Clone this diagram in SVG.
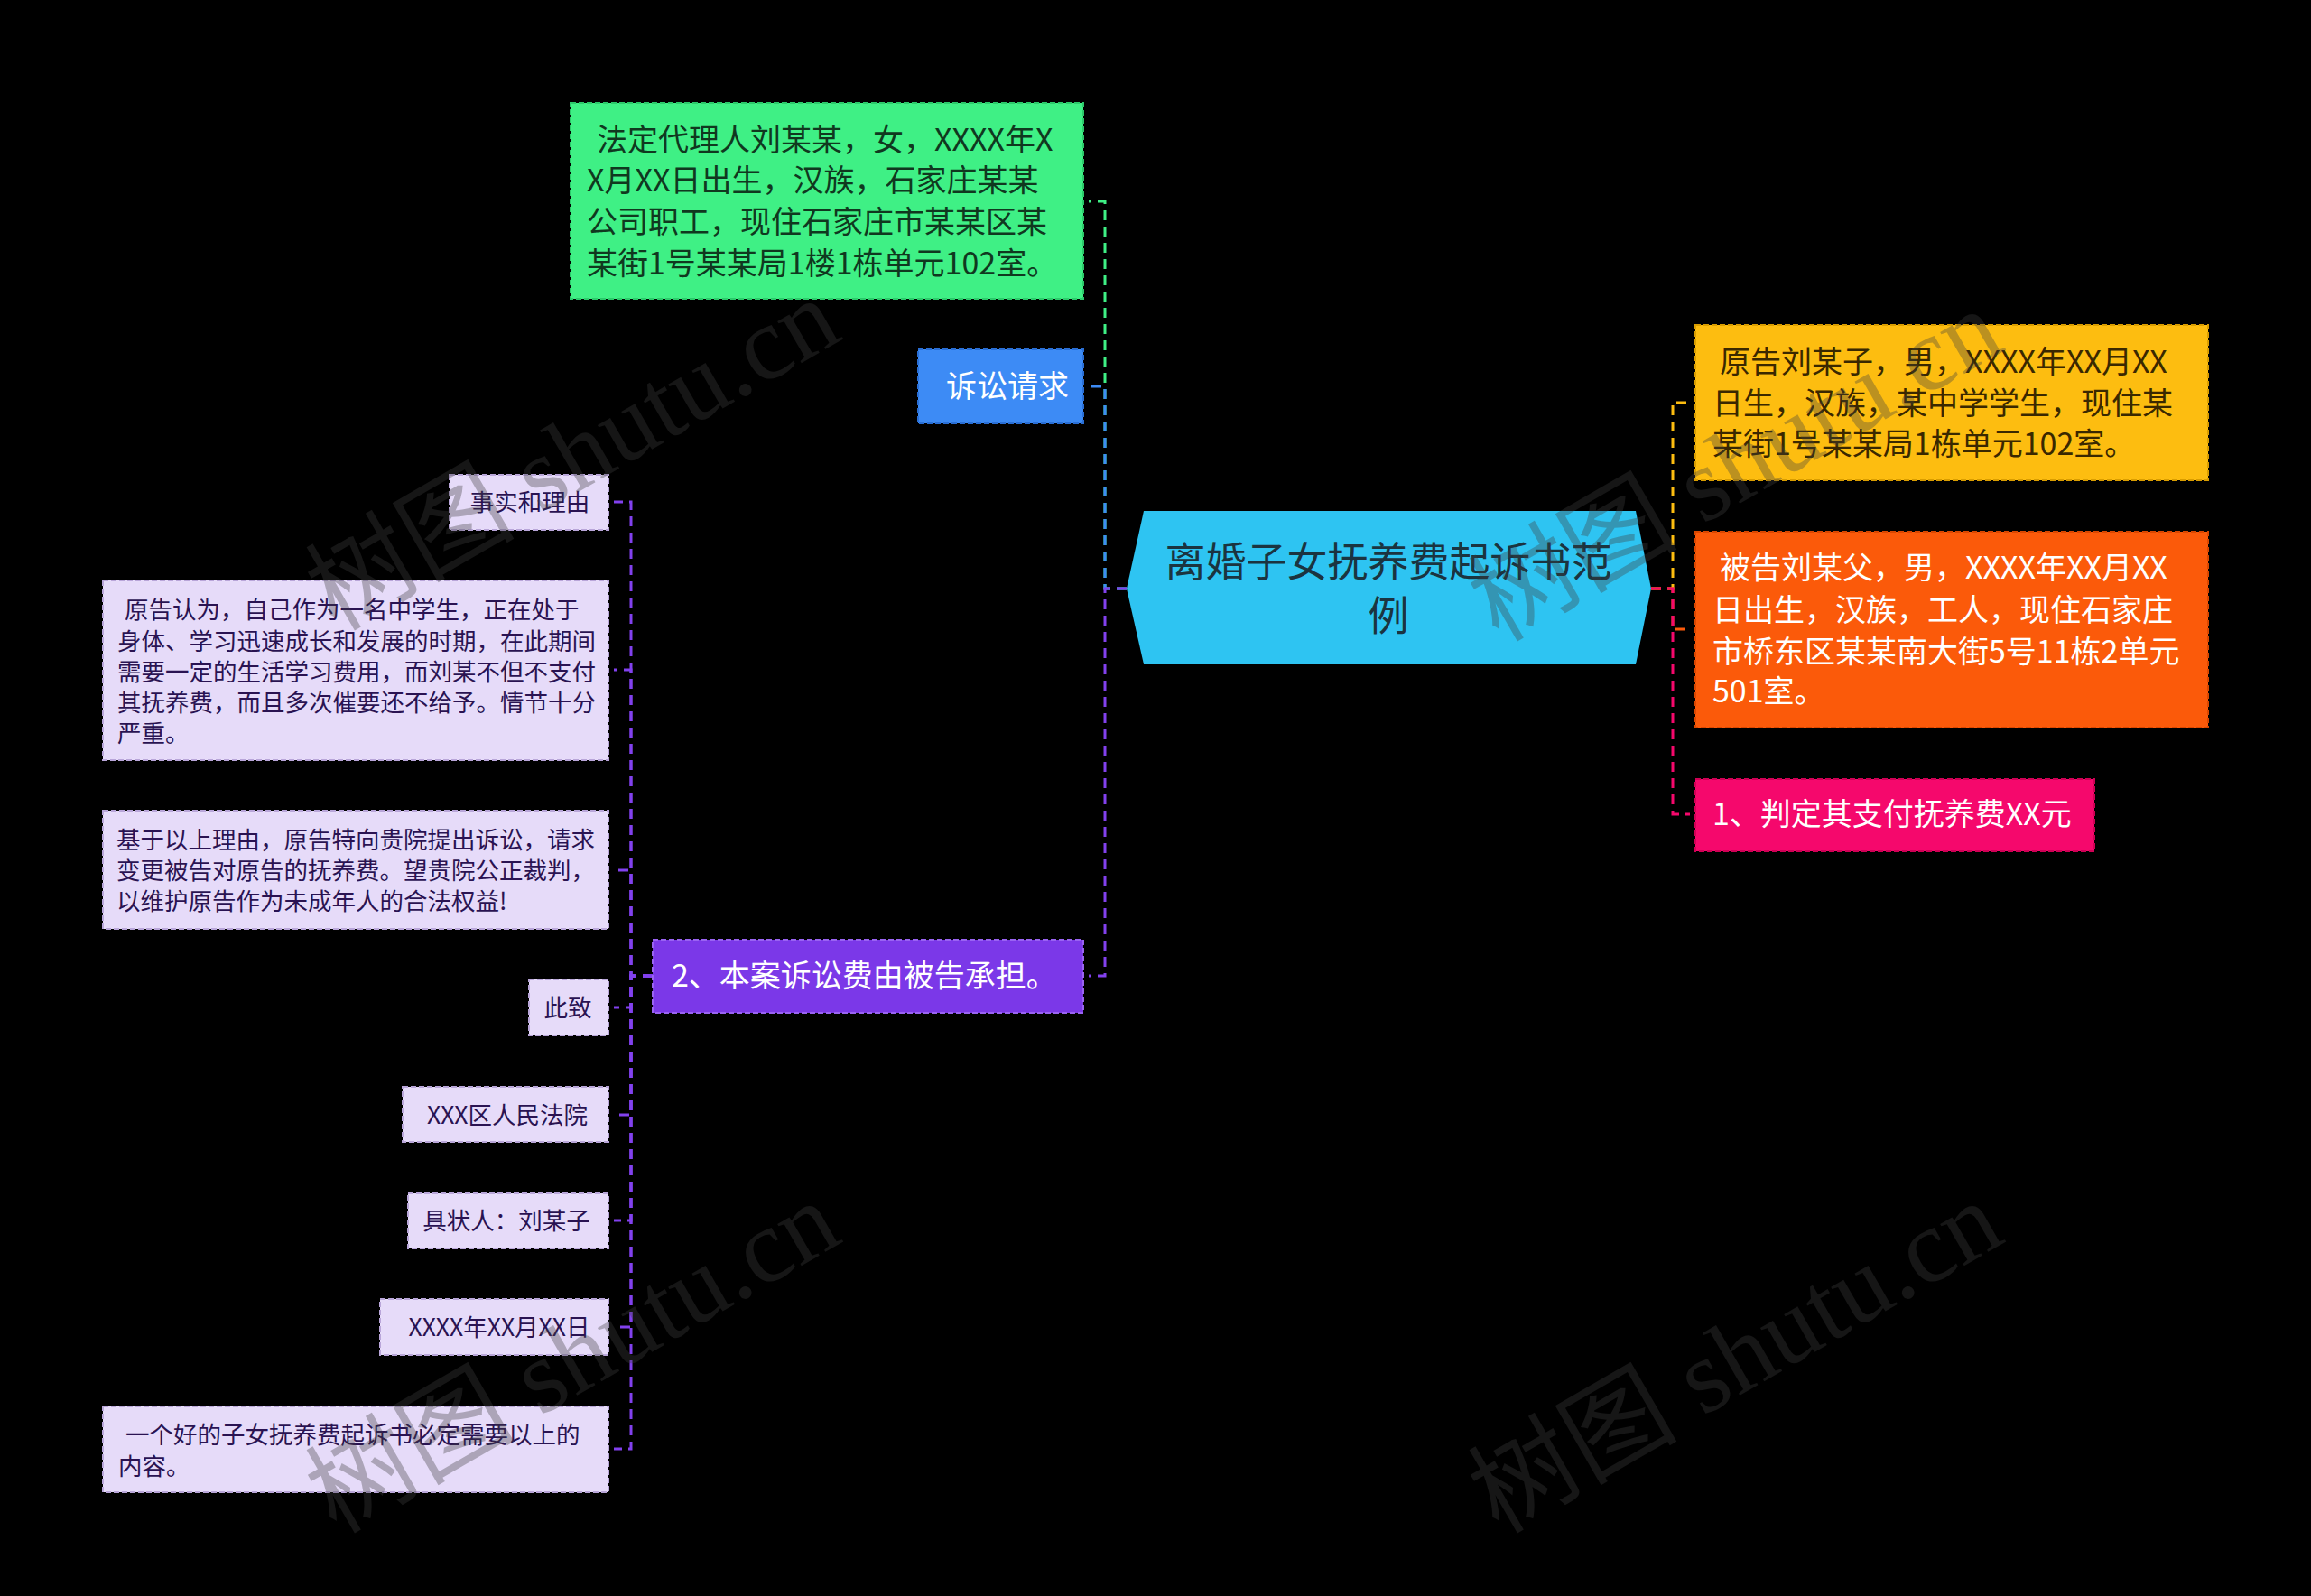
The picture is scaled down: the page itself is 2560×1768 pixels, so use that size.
<svg xmlns="http://www.w3.org/2000/svg" width="2560" height="1768" viewBox="0 0 2560 1768">
<style>
  .t { font-family: "Noto Sans CJK SC", "Noto Sans", sans-serif; dominant-baseline: central; }
  .big { font-size: 34px; }
  .sm { font-size: 26.5px; fill: #2a1352; }
  .box { stroke-width: 2; stroke-dasharray: 6 3; }
  .lav { fill: #e6dbf9; stroke: #b9a6d9; }
  .c { fill: none; stroke-width: 3; stroke-dasharray: 11 7; }
  .wm { font-family: "Liberation Serif", "Noto Sans CJK SC", serif; font-size: 116px; fill: #404040; fill-opacity: 0.35; }
</style>
<rect x="0" y="0" width="2560" height="1768" fill="#000"/>

<g id="connectors">
  <path class="c" stroke="#3ff085" d="M1248,652 H1224 V223 H1206"/>
  <path class="c" stroke="#3d8bf5" d="M1248,652 H1224 V428 H1206"/>
  <path class="c" stroke="#8241ee" d="M1248,652 H1224 V1081 H1206"/>
  <path class="c" stroke="#fdbd10" d="M1829,652 H1853 V446 H1870"/>
  <path class="c" stroke="#fb5a0a" d="M1829,652 H1853 V697 H1872"/>
  <path class="c" stroke="#f5086c" d="M1829,652 H1853 V902 H1872"/>
  <g stroke="#8241ee">
    <path class="c" d="M723,1081 H699 V556 H680"/>
    <path class="c" d="M723,1081 H699 V742 H680"/>
    <path class="c" d="M723,1081 H699 V964 H680"/>
    <path class="c" d="M723,1081 H699 V1116 H680"/>
    <path class="c" d="M723,1081 H699 V1235 H680"/>
    <path class="c" d="M723,1081 H699 V1352 H680"/>
    <path class="c" d="M723,1081 H699 V1470 H680"/>
    <path class="c" d="M723,1081 H699 V1605 H680"/>
  </g>
</g>

<g id="root">
  <polygon points="1267,566 1812,566 1829,652 1812,736 1267,736 1248,652" fill="#2ec4f2"/>
  <text class="t" x="1538" y="619" font-size="45" text-anchor="middle" fill="#1b3440">离婚子女抚养费起诉书范</text>
  <text class="t" x="1538" y="679" font-size="45" text-anchor="middle" fill="#1b3440">例</text>
</g>

<g id="n-agent">
  <rect class="box" x="632" y="114" width="568" height="217" fill="#3ff085" stroke="#2cc96a"/>
  <text class="t big" fill="#10381f">
    <tspan x="661" y="152">法定代理人刘某某，女，XXXX年X</tspan>
    <tspan x="650" y="197">X月XX日出生，汉族，石家庄某某</tspan>
    <tspan x="650" y="243">公司职工，现住石家庄市某某区某</tspan>
    <tspan x="650" y="289">某街1号某某局1楼1栋单元102室。</tspan>
  </text>
</g>

<g id="n-claim">
  <rect class="box" x="1017" y="387" width="183" height="82" fill="#3d8bf5" stroke="#2a6fd6"/>
  <text class="t big" x="1048" y="425" fill="#ffffff">诉讼请求</text>
</g>

<g id="n-cost">
  <rect class="box" x="723" y="1041" width="477" height="81" fill="#7b38e8" stroke="#9a63f2"/>
  <text class="t big" x="744" y="1078" fill="#ffffff">2、本案诉讼费由被告承担。</text>
</g>

<g id="n-plaintiff">
  <rect class="box" x="1878" y="360" width="568" height="172" fill="#fdbd10" stroke="#d99d00"/>
  <text class="t big" fill="#3a2800">
    <tspan x="1905" y="398">原告刘某子，男，XXXX年XX月XX</tspan>
    <tspan x="1897" y="444">日生，汉族，某中学学生，现住某</tspan>
    <tspan x="1897" y="489">某街1号某某局1栋单元102室。</tspan>
  </text>
</g>

<g id="n-defendant">
  <rect class="box" x="1878" y="589" width="568" height="217" fill="#fb5a0a" stroke="#d94700"/>
  <text class="t big" fill="#ffffff">
    <tspan x="1905" y="626">被告刘某父，男，XXXX年XX月XX</tspan>
    <tspan x="1897" y="673">日出生，汉族，工人，现住石家庄</tspan>
    <tspan x="1897" y="719">市桥东区某某南大街5号11栋2单元</tspan>
    <tspan x="1897" y="763">501室。</tspan>
  </text>
</g>

<g id="n-judge">
  <rect class="box" x="1878" y="863" width="442" height="80" fill="#f5086c" stroke="#d00055"/>
  <text class="t big" x="1897" y="899" fill="#ffffff">1、判定其支付抚养费XX元</text>
</g>

<g id="n-facts">
  <rect class="box lav" x="498" y="526" width="176" height="61"/>
  <text class="t sm" x="587" y="554" text-anchor="middle">事实和理由</text>
</g>

<g id="n-reason">
  <rect class="box lav" x="114" y="643" width="560" height="199"/>
  <text class="t sm">
    <tspan x="138" y="673">原告认为，自己作为一名中学生，正在处于</tspan>
    <tspan x="130" y="708">身体、学习迅速成长和发展的时期，在此期间</tspan>
    <tspan x="130" y="742">需要一定的生活学习费用，而刘某不但不支付</tspan>
    <tspan x="130" y="776">其抚养费，而且多次催要还不给予。情节十分</tspan>
    <tspan x="130" y="810">严重。</tspan>
  </text>
</g>

<g id="n-request">
  <rect class="box lav" x="114" y="898" width="560" height="131"/>
  <text class="t sm">
    <tspan x="129" y="928">基于以上理由，原告特向贵院提出诉讼，请求</tspan>
    <tspan x="129" y="962">变更被告对原告的抚养费。望贵院公正裁判，</tspan>
    <tspan x="129" y="996">以维护原告作为未成年人的合法权益!</tspan>
  </text>
</g>

<g id="n-cizhi">
  <rect class="box lav" x="586" y="1085" width="88" height="62"/>
  <text class="t sm" x="629" y="1114" text-anchor="middle">此致</text>
</g>

<g id="n-court">
  <rect class="box lav" x="446" y="1204" width="228" height="61"/>
  <text class="t sm" x="562" y="1233" text-anchor="middle">XXX区人民法院</text>
</g>

<g id="n-signer">
  <rect class="box lav" x="452" y="1322" width="222" height="61"/>
  <text class="t sm" x="561" y="1350" text-anchor="middle">具状人：刘某子</text>
</g>

<g id="n-date">
  <rect class="box lav" x="421" y="1439" width="253" height="62"/>
  <text class="t sm" x="553" y="1468" text-anchor="middle">XXXX年XX月XX日</text>
</g>

<g id="n-summary">
  <rect class="box lav" x="114" y="1558" width="560" height="95"/>
  <text class="t sm">
    <tspan x="139" y="1587">一个好的子女抚养费起诉书必定需要以上的</tspan>
    <tspan x="131" y="1622">内容。</tspan>
  </text>
</g>

<g id="watermarks">
  <text class="wm" transform="translate(372,700) rotate(-30)">树图 shutu.cn</text>
  <text class="wm" transform="translate(1660,712) rotate(-30)">树图 shutu.cn</text>
  <text class="wm" transform="translate(372,1700) rotate(-30)">树图 shutu.cn</text>
  <text class="wm" transform="translate(1660,1700) rotate(-30)">树图 shutu.cn</text>
</g>
</svg>
